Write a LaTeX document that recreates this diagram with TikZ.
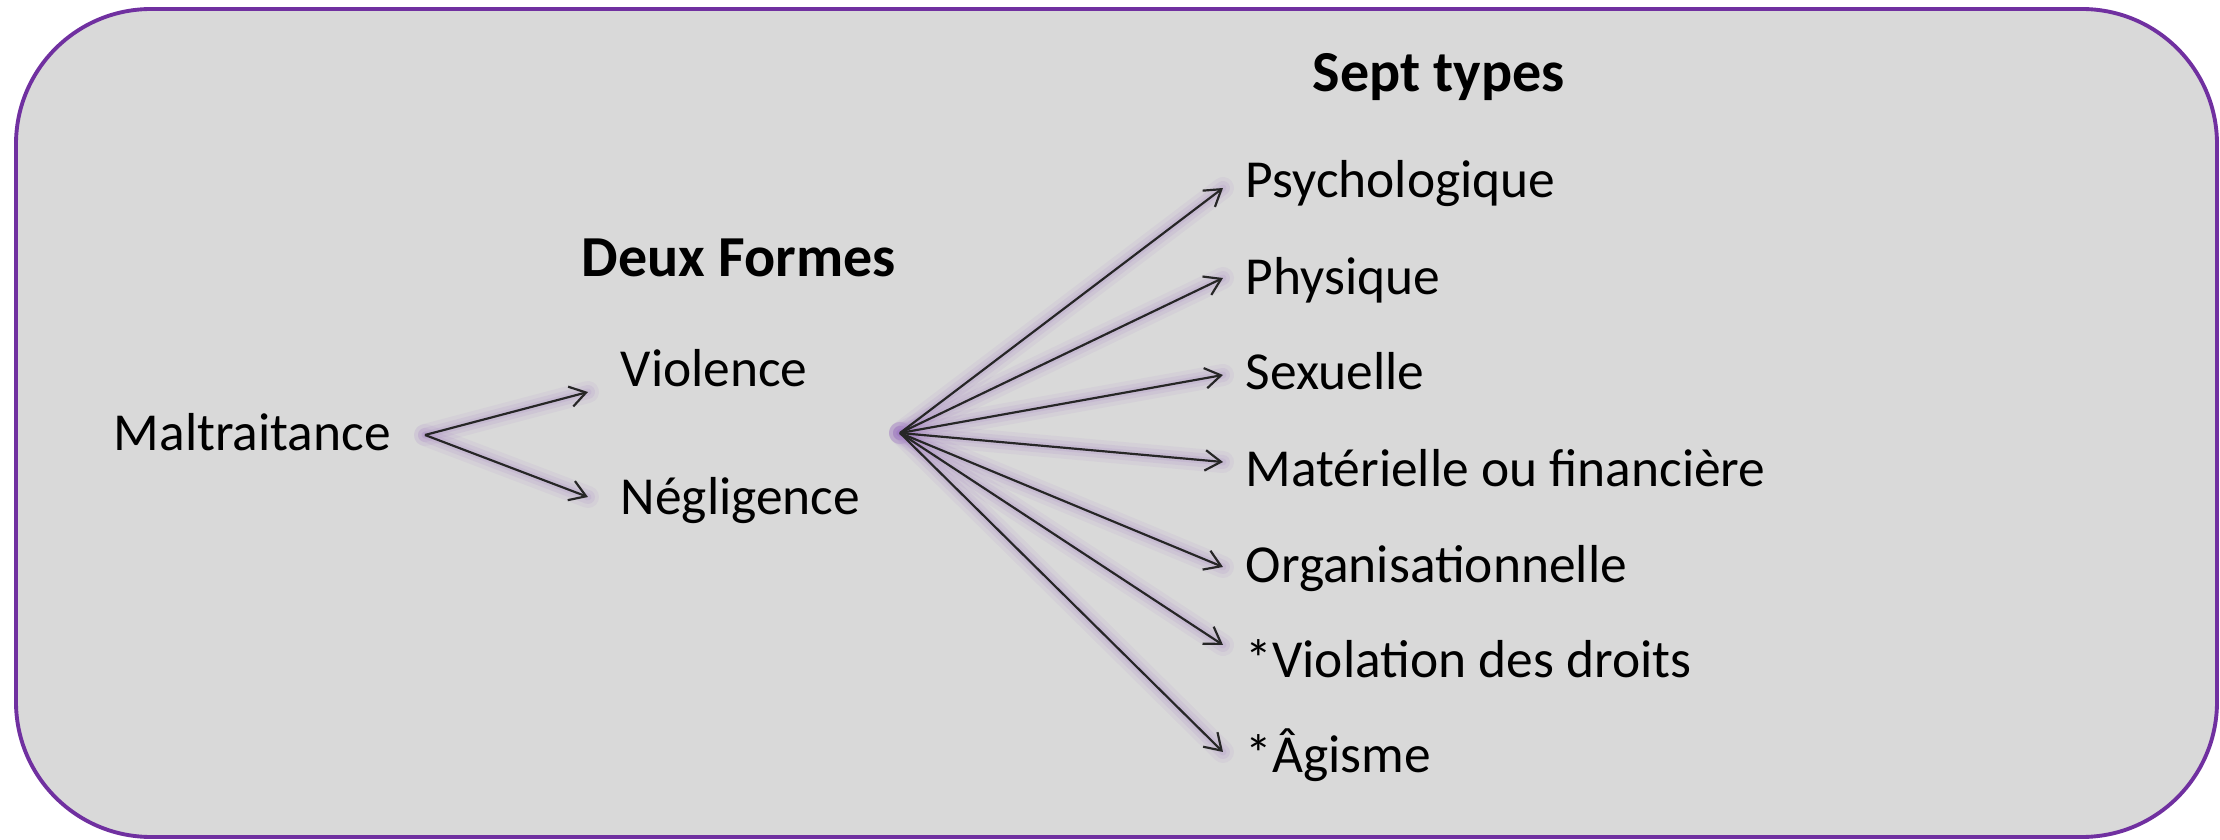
\documentclass[tikz,border=0pt]{standalone}
\usepackage{fontspec}
\setmainfont{Carlito}
\usetikzlibrary{arrows.meta}
\definecolor{boxfill}{HTML}{D9D9D9}
\definecolor{boxline}{HTML}{7030A0}
\definecolor{arrowcol}{HTML}{262626}
\definecolor{glowcol}{HTML}{A27CC4}
\tikzset{
  lbl/.style={anchor=base west, inner sep=0pt, font=\fontsize{15.2}{18}\selectfont},
  hdr/.style={anchor=base west, inner sep=0pt, font=\fontsize{16.5}{20}\selectfont\bfseries},
  conn/.style={draw=arrowcol, line width=0.62pt, -{Straight Barb[length=4.5pt,width=5.8pt]}},
  glowA/.style={draw=glowcol, line width=0.22cm, opacity=0.09, line cap=round},
  glowB/.style={draw=glowcol, line width=0.14cm, opacity=0.12, line cap=round},
  glowC/.style={draw=glowcol, line width=0.07cm, opacity=0.15, line cap=round},
}
\begin{document}
\begin{tikzpicture}[x=0.01cm,y=-0.01cm]
\useasboundingbox (0,0) rectangle (2220,840);
\draw[fill=boxfill, draw=boxline, line width=1.1pt, rounded corners=1.35cm] (16,9) rectangle (2217,837);

% texts
\node[lbl] (mal) at (113,451) {Maltraitance};
\node[hdr] (deux) at (581,277) {Deux Formes};
\node[lbl] (vio) at (620,387) {Violence};
\node[lbl] (neg) at (620,515) {Négligence};
\node[hdr] (sept) at (1312,92) {Sept types};
\node[lbl] (t1) at (1245,198) {Psychologique};
\node[lbl] (t2) at (1245,295) {Physique};
\node[lbl] (t3) at (1245,390) {Sexuelle};
\node[lbl] (t4) at (1245,487) {Matérielle ou financière};
\node[lbl] (t5) at (1245,583) {Organisationnelle};
\node[lbl] (t6) at (1245,678) {*Violation des droits};
\node[lbl] (t7) at (1245,773) {*Âgisme};

% connector points
\coordinate (ms) at (425,435);
\coordinate (ve) at (588,392);
\coordinate (ne) at (588,497);
\coordinate (fs) at (900,433);
\coordinate (e1) at (1223,188);
\coordinate (e2) at (1223,278);
\coordinate (e3) at (1223,375);
\coordinate (e4) at (1223,462);
\coordinate (e5) at (1223,567);
\coordinate (e6) at (1223,645);
\coordinate (e7) at (1223,752);

% glow
\foreach \a/\b in {ms/ve, ms/ne, fs/e1, fs/e2, fs/e3, fs/e4, fs/e5, fs/e6, fs/e7} {
  \draw[glowA] (\a) -- (\b);
  \draw[glowB] (\a) -- (\b);
  \draw[glowC] (\a) -- (\b);
}

% arrows
\draw[conn] (ms) -- (ve);
\draw[conn] (ms) -- (ne);
\draw[conn] (fs) -- (e1);
\draw[conn] (fs) -- (e2);
\draw[conn] (fs) -- (e3);
\draw[conn] (fs) -- (e4);
\draw[conn] (fs) -- (e5);
\draw[conn] (fs) -- (e6);
\draw[conn] (fs) -- (e7);
\end{tikzpicture}
\end{document}
